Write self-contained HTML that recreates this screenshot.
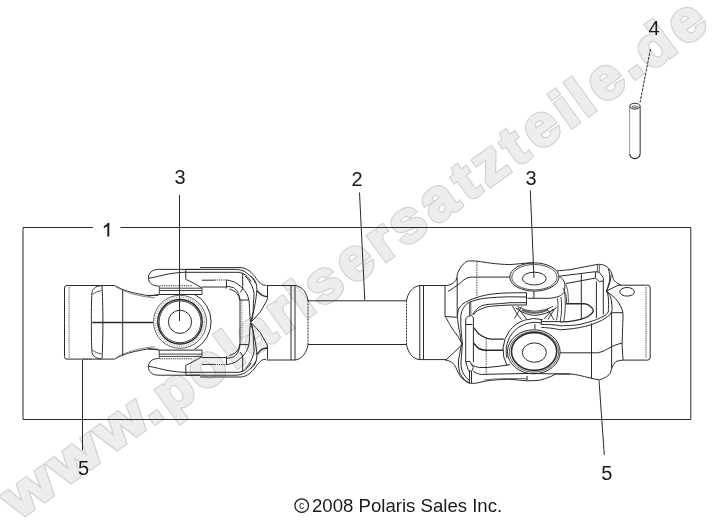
<!DOCTYPE html>
<html><head><meta charset="utf-8">
<style>
html,body{margin:0;padding:0;background:#fff;width:712px;height:524px;overflow:hidden}
svg{display:block;will-change:transform}
text{font-family:"Liberation Sans",sans-serif}
</style></head>
<body>
<svg width="712" height="524" viewBox="0 0 712 524">
<rect width="712" height="524" fill="#fff"/>
<!-- watermark -->
<g font-size="58.5" font-weight="bold" font-family="Liberation Sans" text-anchor="middle" transform="translate(13.8,526.8) rotate(-35.7)" stroke-linejoin="miter" stroke-miterlimit="3">
<g fill="#d3d3d3" stroke="#d3d3d3" stroke-width="4.2"><text transform="translate(33.23,-2.70) scale(1.12,0.95)">w</text><text transform="translate(89.68,-2.70) scale(1.12,0.95)">w</text><text transform="translate(146.13,-2.70) scale(1.12,0.95)">w</text><text transform="translate(179.31,-1.50) scale(1.0,1)">.</text><text transform="translate(209.21,1.30) scale(1.0,0.95)">p</text><text transform="translate(249.10,1.30) scale(1.0,1)">o</text><text transform="translate(279.00,1.30) scale(1.0,0.95)">l</text><text transform="translate(308.90,1.30) scale(1.0,1)">a</text><text transform="translate(342.12,1.30) scale(1.0,1)">r</text><text transform="translate(365.35,1.30) scale(1.0,0.95)">i</text><text transform="translate(393.57,1.30) scale(1.0,1)">s</text><text transform="translate(431.79,1.30) scale(1.0,1)">e</text><text transform="translate(465.00,1.30) scale(1.0,1)">r</text><text transform="translate(496.55,1.30) scale(1.0,1)">s</text><text transform="translate(534.76,1.30) scale(1.0,1)">a</text><text transform="translate(567.98,1.30) scale(1.0,0.95)">t</text><text transform="translate(597.88,1.30) scale(1.0,1)">z</text><text transform="translate(627.78,1.30) scale(1.0,0.95)">t</text><text transform="translate(661.00,1.30) scale(1.0,1)">e</text><text transform="translate(690.90,1.30) scale(1.0,0.95)">i</text><text transform="translate(710.81,1.30) scale(1.0,0.95)">l</text><text transform="translate(740.71,1.30) scale(1.0,1)">e</text><text transform="translate(770.61,-1.50) scale(1.0,1)">.</text><text transform="translate(800.51,1.30) scale(1.0,0.95)">d</text><text transform="translate(840.40,1.30) scale(1.0,1)">e</text></g>
<g fill="#ededed" stroke="#ededed" stroke-width="1.8"><text transform="translate(33.23,-2.70) scale(1.12,0.95)">w</text><text transform="translate(89.68,-2.70) scale(1.12,0.95)">w</text><text transform="translate(146.13,-2.70) scale(1.12,0.95)">w</text><text transform="translate(179.31,-1.50) scale(1.0,1)">.</text><text transform="translate(209.21,1.30) scale(1.0,0.95)">p</text><text transform="translate(249.10,1.30) scale(1.0,1)">o</text><text transform="translate(279.00,1.30) scale(1.0,0.95)">l</text><text transform="translate(308.90,1.30) scale(1.0,1)">a</text><text transform="translate(342.12,1.30) scale(1.0,1)">r</text><text transform="translate(365.35,1.30) scale(1.0,0.95)">i</text><text transform="translate(393.57,1.30) scale(1.0,1)">s</text><text transform="translate(431.79,1.30) scale(1.0,1)">e</text><text transform="translate(465.00,1.30) scale(1.0,1)">r</text><text transform="translate(496.55,1.30) scale(1.0,1)">s</text><text transform="translate(534.76,1.30) scale(1.0,1)">a</text><text transform="translate(567.98,1.30) scale(1.0,0.95)">t</text><text transform="translate(597.88,1.30) scale(1.0,1)">z</text><text transform="translate(627.78,1.30) scale(1.0,0.95)">t</text><text transform="translate(661.00,1.30) scale(1.0,1)">e</text><text transform="translate(690.90,1.30) scale(1.0,0.95)">i</text><text transform="translate(710.81,1.30) scale(1.0,0.95)">l</text><text transform="translate(740.71,1.30) scale(1.0,1)">e</text><text transform="translate(770.61,-1.50) scale(1.0,1)">.</text><text transform="translate(800.51,1.30) scale(1.0,0.95)">d</text><text transform="translate(840.40,1.30) scale(1.0,1)">e</text></g>
</g>
<!-- /watermark -->
<g fill="none" stroke="#2a2a2a" stroke-width="1">
<!-- frame -->
<path d="M93,227.5 H23 V419.5 H690.8 V227.5 H120.5"/>
<!-- leaders -->
<path d="M179.5,195 V321"/>
<path d="M359.5,192.5 L364.8,300"/>
<path d="M530.3,190.5 L534,278"/>
<path d="M650.5,49 L640,102.6" stroke-dasharray="3,1"/>
<path d="M82.5,360 V450.5"/>
<path d="M599,380.3 L604.3,455"/>
</g>
<g font-size="20" fill="#1a1a1a">
<text x="174.5" y="183.5">3</text>
<text x="351.5" y="186">2</text>
<text x="525.5" y="184.6">3</text>
<text x="648.5" y="35.3">4</text>
<text x="78" y="474.5">5</text>
<text x="601.3" y="480.3">5</text>
</g>
<text x="312" y="511.8" font-size="18.6" fill="#1a1a1a">2008 Polaris Sales Inc.</text>
<circle cx="301.7" cy="505.6" r="6.8" fill="none" stroke="#1a1a1a" stroke-width="1.2"/>
<text x="301.7" y="509.4" font-size="10.5" text-anchor="middle" fill="#1a1a1a">c</text>

<path d="M108.3,223.2 V236.5" stroke="#1a1a1a" stroke-width="1.9" fill="none"/>
<path d="M109.2,222.6 L103.8,226.2 L103.8,228.2 L109.2,224.9 Z" fill="#1a1a1a"/>
<!-- DRAWING -->
<g id="draw" fill="none" stroke="#2a2a2a" stroke-width="1">
<!-- pin -->
<path d="M629.65,106.5 V154.2" stroke="#999"/>
<path d="M640.15,106.5 V154.2" stroke="#333"/>
<path d="M629.65,154.2 Q630.5,158.5 634.9,158.6 Q639.3,158.5 640.15,154.2" stroke="#222" stroke-width="1.2"/>
<ellipse cx="634.9" cy="106.2" rx="5.25" ry="2.9" stroke="#333"/>
<path d="M631.5,106.8 Q634.9,104.8 638.3,106.8 Q634.9,108.6 631.5,106.8" stroke="#777"/>
<!-- LEFT SECTION upper half (mirrored) -->
<g id="LU">
<path d="M92,285.5 H67 Q64.5,285.5 64.5,288 V322.3"/>
<path d="M69.1,287 V322.3" stroke="#666" stroke-dasharray="1.5,0.8"/>
<path d="M83,285.5 H92" stroke-dasharray="1.6,1.4"/>
<path d="M92,285.5 H114.2 C116,285.8 119,288 123.1,289.7 C128,291.5 135,293.5 146.7,295.4 L158.4,295.4"/>
<path d="M116,287 C120,289.3 126,291.8 133.7,294.2 C140,296 148,297.3 155,297.8" stroke="#888"/>
<path d="M101.2,285.7 C97,286 93,288 92,292 C91.4,300 91.3,315 91.4,322.3"/>
<path d="M92.3,294.6 C95,292.5 98,291.2 101.5,290.6" stroke="#555"/>
<path d="M102,286 C102.8,300 102.9,315 102.9,322.3"/>
<path d="M122.7,289 V322.3"/>
<!-- top ear -->
<path d="M200,269.4 H158.8 C152,269.4 148.4,273 148.4,277.7 C148.4,282.5 152,286 158.8,286.1"/>
<path d="M149,278.2 C155,277.5 162,275 169.6,273.8 C176,272.8 181,272.3 185.8,272.2"/>
<path d="M185.8,270 V279.7 M186.3,279.7 C190,281 196,284.5 202,288"/>
<path d="M159.7,285.8 H192.2" stroke-dasharray="1.2,1"/>
<path d="M159.3,286 V294.5 M202,288 V294.5 M159.3,288.2 H202 M159.3,290.5 H202" stroke="#444"/>
<path d="M148,296.2 C152,295.6 155,295 159.3,294.5 H202"/>
<!-- fork arm -->
<path d="M200,267.6 H241.3 C245,268 247,269.5 249.2,270.8 C252,273 254,275.5 255,276.7 C256.5,279 257.5,280.5 258.2,280.8 C259.5,282.5 261,284 262.4,284.6 C263.5,285.1 264.5,285.3 266,285.3"/>
<path d="M186,269.4 H237.4 C240,269.6 242,270.4 244.2,271.3 C247,273 249,275 251.1,276.7 C253.5,279.5 255,281.5 255.6,283.6"/>
<path d="M186,272.3 H239 C241.5,272.8 243.5,273.8 245.2,274.8 C248,277 250,279.5 251,281.7"/>
<path d="M242.7,272.8 V288.7 L240.4,292.5"/>
<path d="M202,280.2 H214.7" />
<path d="M214.7,280 H227" stroke-dasharray="1.2,1"/>
<path d="M227,280 C230,280.6 233,281.5 234.9,282.2 C237,283.4 239,285 240.4,286.3 C242,287.6 243.5,289 244.5,290.4 C246,292.5 247.3,294.5 247.9,296.6 C248.7,299 249.2,301 249.3,303.5 C249.5,307 249.6,310 249.6,312 L250.5,322.3"/>
<path d="M227,286.3 C229,286.6 231.5,287 233.5,287.7 C235,288.5 236.5,290 237.6,291.8 C238.9,294 239.7,297 240,300 V322.3"/>
<path d="M229.4,289 C231,289.6 233,290.4 234.9,291.5 C236.5,292.7 238,294.5 239,296.6 L239.5,300"/>
<path d="M239.3,300 H248.6"/>
<path d="M241.9,301 V322.3" stroke="#777" stroke-dasharray="1.2,1"/>
<path d="M226.5,280.2 V288.5 M202,287 H226.5"/>
<path d="M245.2,276 C246.5,277.3 247.7,278.7 248.6,280.1 C250,282 251.2,284 252,286.3 C253,288.5 253.8,291 254.1,293.2 C254,297 253.6,300 253.4,303.5 L253.1,312 L251.2,321.3"/>
<path d="M250.7,276 C252,277 253.2,278.2 254.1,279.4 C255,280.7 255.7,282 256.2,283.6 C256.6,285.5 256.9,287.5 256.9,289.7 C256.8,292 256.5,294.5 256.2,296.6 C255.6,301 255,305 254.1,309 L251.5,321.5"/>
<path d="M267.5,285.3 V298.7 C266.8,300.5 266,302 265.1,303.5 C263.5,306.5 262,309 260.3,312 C257.5,315.5 254.5,318.5 251.2,321.8" />
<path d="M256.9,290.4 C258,291.5 259,292.8 260.3,293.9 C261.3,294.8 262.5,295.5 263.7,295.9 C265,296.3 266.5,296.5 267.9,296.6" stroke-width="1.4"/>
<!-- bearing half band -->
</g>
<use href="#LU" transform="matrix(1,0,0,-1,0,644.6)"/>
<path d="M92.3,322.5 H153" stroke-width="1.5"/>
<!-- left joint bearing -->
<circle cx="180" cy="321.8" r="11.6"/>
<circle cx="180" cy="321.8" r="20.9" stroke="#444"/>
<circle cx="180" cy="321.8" r="22.2" stroke-width="1.5"/>
<circle cx="180" cy="321.8" r="24.4" stroke="#999" stroke-width="1.6" stroke-dasharray="0.8,1.6"/>
<circle cx="180" cy="321.8" r="26.5" stroke="#666"/>
<path d="M194.6,294.4 A31,31 0 0 1 194.6,349.2"/>
<!-- left stub & shaft -->
<path d="M266.5,285.5 H295 C302,286 307,293 308,300.8 H406.5 C407.5,293 413,286 420,285.5 H446.8"/>
<path d="M266.5,360 H295 C302,359.5 307,352 308,344.5 H406.5 C407.5,352 413,359.5 420,359.6 H446.8"/>
<path d="M291,285.5 V360 M295,285.5 V360 M419.8,285.5 V359.6 M423.5,285.5 V359.6"/>
<path d="M308,300.5 V344.5 M406.5,300.5 V344.5" stroke-dasharray="2,1"/>
<!-- RIGHT JOINT -->
<!-- top outline -->
<path d="M446.9,285.5 C450,285 453.5,283.5 455.7,280.6 C457,278.5 457,276.5 457.2,274.7 C458,271.5 460.5,266.5 464.6,262.9 C466,261.6 468,261 469.5,260.9 L477.4,261.1 C486,262.5 495,264.2 510,264.6 C516,264.3 524,263 533.9,262.7"/>
<path d="M557,270.8 C560,271 565,270 569.8,269.7 C575,268.8 580,267.8 584.6,266.8 C590,265.8 594,265 598.3,264.3 C600.5,264.2 602.5,264.6 604.2,265.3 C606.5,266.3 608,267.5 609.2,268.8 C610.6,270.5 611.5,272.5 612.1,274.7 C612.8,276.5 613,278.5 613.6,279.6 C614.8,281.5 616.3,282.8 618,283.5 C619,284.2 620,284.8 621,285.2"/>
<path d="M447.9,291.4 C451,290 457,285.5 459.7,283.5 C462,281.5 465,278.5 468,277.6 C469.5,277.2 471,277.1 472.4,277.1 H509.8"/>
<path d="M560,276.1 L595.4,271.7 M565.9,283.5 L595.4,278.1"/>
<path d="M595.4,271.7 L599.3,272.3 L603.3,277.6 V281 L599.3,281.5 L595.4,278.1 Z"/>
<path d="M597.4,264.5 V272 M599.3,264.3 V272.3" stroke="#555"/>
<path d="M476.9,261.9 V299.2" stroke-dasharray="1.5,1" stroke="#444"/>
<path d="M457.2,277.6 V316.5"/>
<path d="M581.3,273.7 V319.6 M596.4,281.5 V318 M603.3,281 V314.5"/>
<!-- right side notch -->
<path d="M608.2,268.8 C609.5,272 610.5,278 609.2,282.5 C608.5,285.5 607.5,288 606.5,291 M611.1,274.7 C611,280 609,286 606.5,291"/>
<path d="M606.5,291 L618,285.3 M606.5,291 C610,294 613,296 615.5,298.6 C618,301.5 620,304.5 621.5,308 C622.8,311 623.2,314 623,318 C622.5,330 621.8,345 622.5,352 C622.8,356 623,358.5 623.2,360.1"/>
<path d="M606.5,291 C607.5,293 608.3,296 608.4,299 C608.6,303 608.8,306.5 608.3,309.7 M606.5,291 C609,294 611,297 611.4,300.5 C611.8,304 612.1,307 612.1,309.7"/>
<!-- band lines (lower arm of right yoke) -->
<path d="M541.3,321.6 H560 M541.3,324.5 C550,324.4 555,324.6 560,325.8 M541.3,327.4 C550,327.8 555,328.6 560,329.8"/>
<path d="M560,325.8 C570,325.6 575,325.2 579.7,324.5 C586,323 591,321.5 596.4,319.6 C600,318 603.5,316.5 606.2,314.7 C607.5,313 608.6,311.5 608.8,309.7"/>
<path d="M560,329.8 C570,329.3 578,328 584.6,326.5 C591,325 596,323 601.3,320.6 C605,318.5 608,316.5 610.1,314.7 C611,313 611.8,311.5 612.1,309.7"/>
<!-- D opening right -->
<path d="M565.9,303.8 H584.6 C587,304 589,305 590.5,306.5 C592,307.8 593.4,309 593.4,310.5 C593.2,312 592.4,313 591,314.2 C589,315.8 587.5,316.8 585.6,317.6 C582,319 578,320 574.7,320.6 C570,321.5 565,322 560,321.8" stroke-width="1.4"/>
<path d="M591.5,323.5 V378.3 M611.6,312.7 V368.5 M611.6,312.7 H622.9"/>
<path d="M560,352.8 H597.4 C600,352.4 602,351.7 604.2,350.8 C606.5,349.6 609,348.2 611.1,346.9 C613.5,345.7 616,344.6 619,343.9 C620,343.5 621,343.2 622,343"/>
<!-- bottom outline -->
<path d="M623.2,360.1 C619,360.5 617,361 616,361.6 C614,363.5 612.8,365.5 612.1,367.5 C611.3,369.5 610.8,371.5 610.1,373.4 C608.5,375.3 607,376.5 605.2,377.4 C603.5,378.5 601.5,379.3 599.3,379.8 C596,379.3 592.5,378.6 589.5,377.9 C586,377 583,376.2 579.7,375.4 C576.5,374.6 573,374.2 569.8,373.9 H556"/>
<path d="M445.7,360.2 C448,360.5 450.5,361.2 452.4,362.8 C454.5,364.5 455.8,367 456.7,369.5 C457.8,371.5 458.7,373.5 459.7,375.4 C461,377.5 462.7,379 464.6,380.3 C466.2,381.6 467.8,382.7 469.5,383.3 H475.4 C478.5,382.7 481.3,382 484.2,381.3 C488.5,380.5 492.5,380 497,379.8 C502,379.5 506,379.3 510,379.3 L527.5,380.8 C531,380.8 535,380.6 539.3,380.3 C543.5,379.3 547.5,378 551.1,376.4 C553,375.5 554.5,374.6 556,373.9"/>
<path d="M484.2,380 C495,378.8 505,378.4 527,378.7" stroke="#666"/>
<path d="M527,375.9 V380.8"/>
<!-- left side of right yoke -->
<path d="M445,285.5 V316.5 L457.2,317.3 M445.7,317.4 C448,321 449.5,324 451,326.7 C453,330 455.5,333 457.7,336.1 C459.5,338.8 461,341.5 462.4,344.3 M445.7,360.2 L462.4,344.5"/>
<path d="M526.5,292.7 L510,292.9 C505,293 499,293.2 494.1,293.8 C488.5,294.5 483,295.5 477.4,297.3 C471,299.3 466,301.5 462.6,304.2 C460,306.5 458.7,308.5 458.2,310.7 C457.5,313.5 457.5,316.5 457.7,319.6 C458,324 458.8,328.5 459.7,332.4 C460.2,335.5 460.9,340 461.5,343.5 C460.5,350 459.5,355 458.5,360 C458.2,364 458.5,368 459.7,372.4 C461,375.5 462.5,377.5 464.6,379.6 C466,381 467.5,382 469.5,382.8"/>
<path d="M526.5,297 L510,296.8 C500,297 492,297.5 484.2,298.3 C479,299 474,300.5 469.5,302.2 C467,303.5 465,305.5 463.6,307.5 C462,310 461.1,313 460.8,316.6 C460.6,321 460.8,326 461.1,330 C461.5,335 462,340 462.4,344 C462,350 461.5,356 461,362 C460.8,366 461.5,370.5 463.6,374 C465.5,377 467.5,379 469.5,380.5"/>
<path d="M526.5,302.7 H510 C500,303.7 494,304 489.2,304.3 C486,304.7 483.5,305.1 481.3,305.8 C479.5,306.8 477.8,308 476.4,309.7 C475,311.3 473.5,313 472.4,314.7"/>
<path d="M526.5,305 H510 C500,305.5 493,306 487.2,306.8 C483.5,307.8 480.2,309 477.4,310.7 C475.8,312 474.5,313.3 473.4,314.7"/>
<path d="M469.5,301.8 V315.6 M470.8,301.5 V315.4" stroke="#555"/>
<path d="M465.7,362 V320 C465.9,317.5 467.5,316 471.5,315.6 C472.5,316.3 473,317 473.4,318 V362"/>
<path d="M465.7,362 L469.5,361.1 L473.4,367.5 L471.5,371.5 L468.5,370.5 Z M469.5,370.5 V383 M471.5,371.5 V383 M465.7,324.5 H472.4"/>
<path d="M473.4,327.4 C475.5,330 477.3,332.5 479.3,334.3 C481.8,336.2 484.5,337.6 487.2,338.3 C490,339 492.5,339.2 495,339.2 H503.9" stroke-width="1.3"/>
<path d="M473.4,343 C475.5,345.5 477.3,347.5 479.3,348.8 C481.5,349.8 484,350.3 486.2,350.3 H503" stroke-width="1.5"/>
<path d="M486.2,338.3 V374.4" stroke-dasharray="1.5,1" stroke="#444"/>
<path d="M471.5,364.6 C474,366 477,367.3 479.3,367.5 H487.2 C495,367 502,365.8 510,364.6"/>
<path d="M473.4,371.5 C476,373 479,374.2 481.3,374.4 L529.5,373.4 L570,374.2"/>
<!-- upper cap -->
<ellipse cx="534.4" cy="277" rx="24.6" ry="14.1"/>
<ellipse cx="534.4" cy="277.2" rx="22.6" ry="12.7" stroke="#555"/>
<ellipse cx="534.3" cy="278.6" rx="11.9" ry="6.4"/>
<path d="M559,276.1 C561,277.5 562.5,278.5 562.9,279.6 C564,281 564.7,282.5 564.9,284.5 C565,287.5 564.7,290 563.9,292.4 C562.5,294.2 561,295.5 559,296.3 C556,297.5 552.5,298 549.2,298.3 H527.5"/>
<path d="M533.9,290.9 V298.3 M526.5,292.7 V305"/>
<path d="M562.9,288 C565,291 566.5,295 566.5,300 V303.8 M565.5,284 C567.5,288 568.5,293 568.3,303.8" stroke="#555"/>
<!-- cross center -->
<path d="M515.8,308 C522,312.5 528,315 534.8,315.4 C542,315 549,312.5 554.8,309"/>
<path d="M517.5,306.5 C523,309.5 528,311 534.8,311.2 C542,311 548,309 553,306.3" stroke="#444"/>
<path d="M522,309.8 C527,312 531,313 534.8,313.1 C539,313 543,312 547.5,309.8" stroke="#666" stroke-width="2"/>
<path d="M512.6,306 C515,311 518,315.5 521.5,319.5 M521.5,306.5 C519,311 516.5,315 514.5,318.5 M518,308 L526.5,319" stroke="#333"/>
<path d="M556.5,307 C553,311 550.5,315 548,319.5 M547,309 C550,313 552,316.5 554,320 M553,309 L544,319" stroke="#333"/>
<path d="M557.5,298.5 C558.5,306 558,313 556.5,320.5 M561,297 C562,305 561.8,313 560.3,321 M564.5,291.5 C565.8,301 565.5,311 563.8,321.5" stroke="#444"/>
<!-- lower cap -->
<path d="M507.2,365.75 A31.5,31.5 0 0 1 542.65,319.6"/>
<path d="M507,358 A28.7,28.7 0 0 1 541.3,323.1"/>
<path d="M541.3,319.6 V324.5"/>
<ellipse cx="533.8" cy="351.8" rx="26.3" ry="22"/>
<ellipse cx="534" cy="351.8" rx="24.6" ry="20.3" stroke="#666"/>
<ellipse cx="534.1" cy="351.5" rx="22.6" ry="18.9" stroke-width="1.6"/>
<ellipse cx="534.4" cy="352.6" rx="12" ry="9.7"/>
<path d="M534.9,324 V329"/>
<!-- right cap -->
<path d="M618,285.2 H647.5 Q650.2,285.2 650.2,288 V357.5 Q650.2,360.1 647.5,360.1 H623.2"/>
<path d="M646,287 V358" stroke-dasharray="1.5,0.8" stroke="#555"/>
<ellipse cx="627.1" cy="291.8" rx="7.3" ry="4.3"/>
</g>

</svg>
</body></html>
